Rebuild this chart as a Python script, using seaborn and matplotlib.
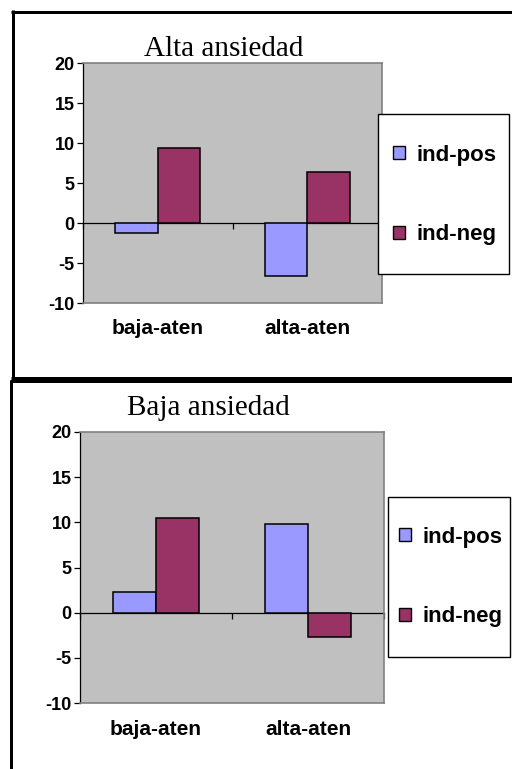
import matplotlib
matplotlib.use("Agg")
import matplotlib.pyplot as plt
from matplotlib.lines import Line2D
from matplotlib.patches import Patch, Rectangle
import pandas as pd
import seaborn as sns

# ---- data -------------------------------------------------------------
categories = ["baja-aten", "alta-aten"]
series = ["ind-pos", "ind-neg"]
colors = ["#9999FF", "#993366"]

alta_pos = [-1.25, -6.6]
alta_neg = [9.4, 6.4]
baja_pos = [2.3, 9.8]
baja_neg = [10.5, -2.7]

panel_titles = ["Alta ansiedad", "Baja ansiedad"]
y_ticks = [-10, -5, 0, 5, 10, 15, 20]
y_tick_labels = [str(v) for v in y_ticks]

# ---- figure -----------------------------------------------------------
W, H = 512, 769
sns.set_theme(style="white")
plt.rcParams["font.family"] = ["Liberation Sans", "DejaVu Sans"]
plt.rcParams["axes.unicode_minus"] = False
for key in ("text.color", "axes.labelcolor", "xtick.color", "ytick.color"):
    plt.rcParams[key] = "black"

fig = plt.figure(figsize=(W / 100, H / 100), dpi=100)
fig.patch.set_facecolor("white")


def fig_box(l, t, r, b):
    """Pixel box (left, top, right, bottom) -> figure fraction rect."""
    return [l / W, 1 - b / H, (r - l) / W, (b - t) / H]


def fig_pt(x, y):
    return x / W, 1 - y / H


def make_frame(df_pos, df_neg):
    return pd.DataFrame({
        "cat": categories * 2,
        "serie": [series[0]] * 2 + [series[1]] * 2,
        "val": list(df_pos) + list(df_neg),
    })


panels = [
    dict(data=make_frame(alta_pos, alta_neg), title=panel_titles[0],
         ax_box=(83, 63, 382, 303), title_xy=(224, 56),
         legend_box=(378, 114, 509, 274), legend_y=195, handle_x=393,
         xpad=11.5),
    dict(data=make_frame(baja_pos, baja_neg), title=panel_titles[1],
         ax_box=(80, 432, 384, 703), title_xy=(208, 415),
         legend_box=(388, 497, 510, 657), legend_y=577, handle_x=399,
         xpad=12.5),
]

grey_border = "#808080"

for p in panels:
    ax = fig.add_axes(fig_box(*p["ax_box"]))
    ax.set_facecolor("#C0C0C0")
    sns.barplot(data=p["data"], x="cat", y="val", hue="serie",
                order=categories, hue_order=series, palette=colors,
                saturation=1, width=0.57, errorbar=None,
                edgecolor="black", linewidth=1.1, legend=False, ax=ax)
    ax.set_xlim(-0.5, 1.5)
    ax.set_ylim(-10, 20)
    ax.set_yticks(y_ticks)
    ax.set_yticklabels(y_tick_labels, fontsize=13, fontweight="bold")
    ax.set_xlabel("")
    ax.set_ylabel("")
    ax.set_xticks(range(len(categories)))
    ax.set_xticklabels(categories, fontsize=15, fontweight="bold")
    ax.tick_params(axis="x", length=0, pad=p["xpad"], colors="black")
    ax.tick_params(axis="y", left=True, direction="out", length=4.5,
                   width=0.9, pad=1.5, colors="black")
    for side in ("top", "right", "bottom"):
        ax.spines[side].set_color(grey_border)
        ax.spines[side].set_linewidth(1.2)
    ax.spines["left"].set_color("black")
    ax.spines["left"].set_linewidth(0.9)
    ax.grid(False)

    # category axis crossing at zero, with ticks between categories
    zero_axis = ax.secondary_xaxis(0, transform=ax.transData)
    zero_axis.set_xticks([-0.5, 0.5, 1.5])
    zero_axis.set_xticklabels([])
    zero_axis.tick_params(direction="out", length=4, width=0.9,
                          colors="black")
    for sp in zero_axis.spines.values():
        sp.set_color("black")
        sp.set_linewidth(0.9)

    # title
    tx, ty = fig_pt(*p["title_xy"])
    fig.text(tx, ty, p["title"], ha="center", va="baseline", color="black",
             fontsize=21, family=["Liberation Serif", "DejaVu Serif"])

    # legend box and entries
    l, t, r, b = p["legend_box"]
    x0, y0 = fig_pt(l, b)
    fig.add_artist(Rectangle((x0, y0), (r - l) / W, (b - t) / H,
                             transform=fig.transFigure, facecolor="white",
                             edgecolor="black", linewidth=1.0, zorder=4))
    handles = [Patch(facecolor=c, edgecolor="black", linewidth=1.0)
               for c in colors]
    lx, ly = fig_pt(p["handle_x"], p["legend_y"])
    leg = fig.legend(handles, series, loc="center left",
                     bbox_to_anchor=(lx, ly), frameon=False, borderpad=0,
                     borderaxespad=0, handlelength=0.55, handleheight=0.55,
                     handletextpad=0.5, labelspacing=2.65, labelcolor="black",
                     prop={"family": "Liberation Sans", "weight": "bold",
                           "size": 16})
    leg.set_zorder(5)

# ---- outer panel frames ------------------------------------------------
frame_lw = 3 * 72 / 100


def frame_line(x1, y1, x2, y2):
    (a, b), (c, d) = fig_pt(x1, y1), fig_pt(x2, y2)
    fig.add_artist(Line2D([a, c], [b, d], transform=fig.transFigure,
                          color="black", linewidth=frame_lw,
                          solid_capstyle="butt", zorder=6))


# upper panel
frame_line(12.5, 10, 12.5, 379.5)
frame_line(11, 11.5, W, 11.5)
frame_line(11, 378.2, W, 378.2)
# lower panel
frame_line(10, 381.2, W, 381.2)
frame_line(11.3, 380, 11.3, H)

fig.savefig("out.png", dpi=100)
